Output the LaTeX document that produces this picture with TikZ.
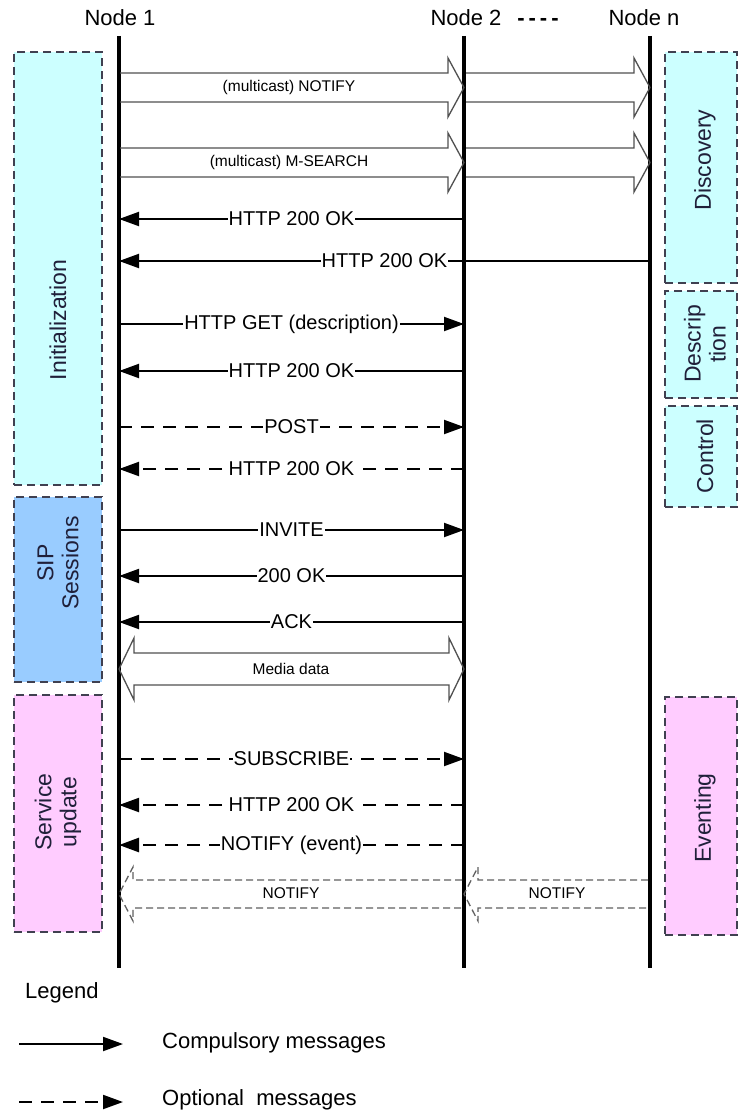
\documentclass[tikz,border=0pt]{standalone}
\usepackage{fontspec}
\setmainfont{Liberation Sans}
\usetikzlibrary{arrows.meta}
\definecolor{cyanbox}{HTML}{CCFFFF}
\definecolor{bluebox}{HTML}{99CCFF}
\definecolor{pinkbox}{HTML}{FFCCFF}
\definecolor{boxedge}{HTML}{404050}
\definecolor{boxtext}{HTML}{20203A}
\definecolor{hollow}{HTML}{505050}
\definecolor{hollowdash}{HTML}{606060}
% message: name, y, x-start, x-end, style, label
\newcommand{\seqmsg}[6]{%
  \coordinate (#1s) at (#3,#2);
  \coordinate (#1e) at (#4,#2);
  \draw[#5] (#1s) -- node[lbl] (#1l) {#6} (#1e);}
% hollow block arrow: style, name, x-start, x-tip, top, bottom, headlen (signed), spike
\newcommand{\fatarrow}[8]{%
  \coordinate (#2s) at (#3,{(#5+#6)/2});
  \coordinate (#2e) at (#4,{(#5+#6)/2});
  \draw[#1] (#3,#5) -- ({#4-(#7)},#5) -- ({#4-(#7)},{#5-#8}) -- (#2e)
     -- ({#4-(#7)},{#6+#8}) -- ({#4-(#7)},#6) -- (#3,#6);}
\begin{document}
\begin{tikzpicture}[x=1pt,y=-1pt,
  lifeline/.style={line width=3.5pt},
  phase/.style={draw=boxedge, line width=1.3pt, dash pattern=on 8pt off 5pt, inner sep=0pt},
  phaselbl/.style={rotate=90, align=center, text=boxtext, font=\fontsize{23}{25}\selectfont},
  hdr/.style={font=\fontsize{22}{24}\selectfont, anchor=base, inner sep=0pt},
  msg/.style={line width=2pt, -{Triangle[length=20pt,width=14pt]}},
  opt/.style={msg, dash pattern=on 13pt off 9pt},
  optthick/.style={opt, line width=2.6pt},
  lbl/.style={fill=white, inner sep=1pt, font=\fontsize{20}{22}\selectfont},
  slbl/.style={inner sep=0pt, font=\fontsize{15.5}{17}\selectfont},
  block/.style={draw=hollow, line width=1.3pt, line join=miter},
  dblock/.style={draw=hollowdash, line width=1.3pt, dash pattern=on 7pt off 4pt},
  legtext/.style={font=\fontsize{22}{24}\selectfont, anchor=west, inner sep=0pt},
  ]
\useasboundingbox (0,0) rectangle (744,1113);
\fill[white] (0,0) rectangle (744,1113);

% phase boxes (left)
\node[phase, fill=cyanbox, minimum width=88pt, minimum height=433pt] (init) at (58,268.5) {};
\node[phaselbl] (initl) at (58,320) {Initialization};
\node[phase, fill=bluebox, minimum width=88pt, minimum height=185pt] (sip) at (58,589.5) {};
\node[phaselbl] (sipl) at (58,563) {SIP\\Sessions};
\node[phase, fill=pinkbox, minimum width=88pt, minimum height=237pt] (serv) at (58,813.5) {};
\node[phaselbl] (servl) at (58,812) {Service\\update};

% phase boxes (right)
\node[phase, fill=cyanbox, minimum width=72pt, minimum height=231pt] (disc) at (701,167.5) {};
\node[phaselbl] (discl) at (705,160) {Discovery};
\node[phase, fill=cyanbox, minimum width=72pt, minimum height=107pt] (desc) at (701,344.5) {};
\node[phaselbl] (descl) at (705,344) {Descrip\\tion};
\node[phase, fill=cyanbox, minimum width=72pt, minimum height=101pt] (ctrl) at (701,456.5) {};
\node[phaselbl] (ctrll) at (705,456) {Control};
\node[phase, fill=pinkbox, minimum width=72pt, minimum height=238pt] (evt) at (701,816) {};
\node[phaselbl] (evtl) at (705,818) {Eventing};

% headers
\node[hdr] (h1) at (120,26) {Node 1};
\node[hdr] (h2) at (466,26) {Node 2};
\node[hdr] (hdots) at (538,26) {\textbf{-\kern4pt-\kern4pt-\kern4pt-}};
\node[hdr] (hn) at (644,26) {Node n};

% lifelines
\coordinate (n1t) at (119,36);  \coordinate (n1b) at (119,968);
\coordinate (n2t) at (464,36);  \coordinate (n2b) at (464,968);
\coordinate (nnt) at (650,36);  \coordinate (nnb) at (650,968);
\draw[lifeline] (n1t) -- (n1b);
\draw[lifeline] (n2t) -- (n2b);
\draw[lifeline] (nnt) -- (nnb);

% multicast block arrows
\fatarrow{block}{nfa}{120}{464}{73}{102}{16}{15}
\fatarrow{block}{nfb}{466}{650}{73}{102}{16}{15}
\node[slbl] (nfl) at (289,87.5) {(multicast) NOTIFY};
\fatarrow{block}{msa}{120}{464}{148}{177}{16}{15}
\fatarrow{block}{msb}{466}{650}{148}{177}{16}{15}
\node[slbl] (msl) at (289,162.5) {(multicast) M-SEARCH};

% messages
\seqmsg{m1}{219}{464}{119}{msg}{HTTP 200 OK}
\seqmsg{m2}{261}{650}{119}{msg}{HTTP 200 OK}
\seqmsg{m3}{324}{119}{464}{msg}{HTTP GET (description)}
\seqmsg{m4}{371}{464}{119}{msg}{HTTP 200 OK}
\seqmsg{m5}{427}{119}{464}{opt}{POST}
\seqmsg{m6}{469}{464}{119}{opt}{HTTP 200 OK}
\seqmsg{m7}{530}{119}{464}{msg}{INVITE}
\seqmsg{m8}{576}{464}{119}{msg}{200 OK}
\seqmsg{m9}{622}{464}{119}{msg}{ACK}

% media data double block arrow
\coordinate (mdl) at (119,669);
\coordinate (mdr) at (464,669);
\draw[block] (mdl) -- (134,638) -- (134,653) -- (449,653) -- (449,638) -- (mdr)
  -- (449,700) -- (449,685) -- (134,685) -- (134,700) -- cycle;
\node[slbl] (mdlbl) at (291,669) {Media data};

\seqmsg{m10}{759}{119}{464}{opt}{SUBSCRIBE}
\seqmsg{m11}{805}{464}{119}{opt}{HTTP 200 OK}
\seqmsg{m12}{845}{464}{119}{optthick}{NOTIFY (event)}

% dashed block arrows (eventing notify)
\fatarrow{dblock}{ena}{648}{464}{880}{908}{-14}{13}
\fatarrow{dblock}{enb}{462}{119}{880}{908}{-14}{13}
\node[slbl] (enal) at (557,893) {NOTIFY};
\node[slbl] (enbl) at (291,893) {NOTIFY};

% legend
\node[legtext] (leg) at (25,993) {Legend};
\coordinate (lg1s) at (19,1044); \coordinate (lg1e) at (123,1044);
\draw[msg] (lg1s) -- (lg1e);
\node[legtext] (lg1t) at (162,1043) {Compulsory messages};
\coordinate (lg2s) at (19,1102); \coordinate (lg2e) at (123,1102);
\draw[opt] (lg2s) -- (lg2e);
\node[legtext] (lg2t) at (162,1100) {Optional~ messages};
\end{tikzpicture}
\end{document}
